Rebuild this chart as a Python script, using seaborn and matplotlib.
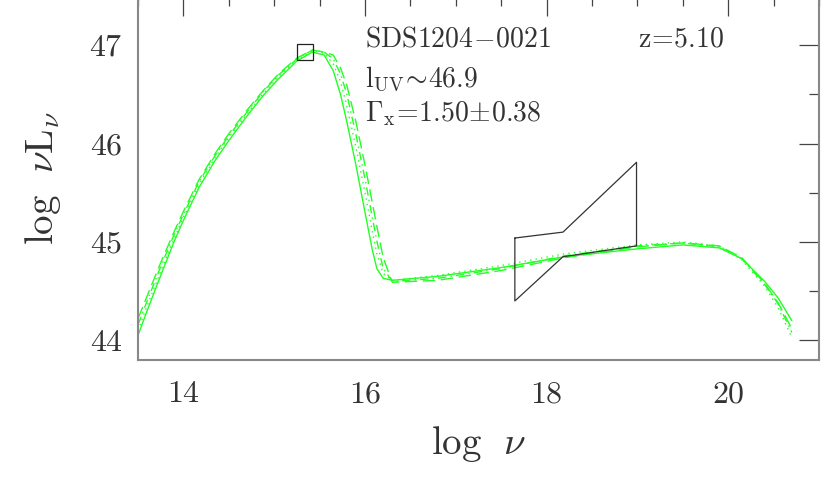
import numpy as np
import pandas as pd
import matplotlib
matplotlib.use("Agg")
import matplotlib.pyplot as plt
import seaborn as sns

# Date SED (log nu, log nu L_nu)
log_nu = [13.5, 13.6, 13.75, 13.9, 14.0, 14.17, 14.35, 14.5, 14.7, 14.88,
          15.05, 15.25, 15.42, 15.55, 15.65, 15.73, 15.8, 15.9, 16.0, 16.08,
          16.13, 16.2, 16.3, 16.8, 17.5, 18.2, 19.0, 19.5, 19.9, 20.15,
          20.4, 20.55, 20.7]

sed_solid = [44.05, 44.30, 44.66, 45.01, 45.22, 45.55, 45.83, 46.03, 46.28, 46.49,
             46.66, 46.84, 46.93, 46.90, 46.74, 46.50, 46.22, 45.78, 45.30, 44.92,
             44.73, 44.63, 44.61, 44.65, 44.74, 44.85, 44.93, 44.97, 44.94, 44.83,
             44.60, 44.43, 44.20]
sed_dash = [44.22, 44.45, 44.79, 45.11, 45.31, 45.63, 45.90, 46.10, 46.34, 46.54,
            46.71, 46.87, 46.95, 46.93, 46.90, 46.77, 46.59, 46.22, 45.78, 45.40,
            45.16, 44.84, 44.59, 44.61, 44.71, 44.84, 44.95, 44.99, 44.96, 44.84,
            44.58, 44.38, 44.12]
sed_dot = [44.10, 44.35, 44.70, 45.04, 45.25, 45.58, 45.86, 46.06, 46.30, 46.51,
           46.68, 46.85, 46.94, 46.92, 46.81, 46.63, 46.38, 45.96, 45.50, 45.11,
           44.88, 44.68, 44.61, 44.66, 44.76, 44.88, 44.97, 45.00, 44.96, 44.82,
           44.55, 44.33, 44.03]
sed_dashdot = [44.16, 44.40, 44.75, 45.08, 45.28, 45.61, 45.88, 46.08, 46.32, 46.53,
               46.70, 46.86, 46.95, 46.93, 46.86, 46.71, 46.50, 46.09, 45.64, 45.25,
               45.01, 44.73, 44.60, 44.63, 44.73, 44.86, 44.96, 44.99, 44.95, 44.83,
               44.57, 44.37, 44.08]

# Punctul UV si "papionul" X
uv_point = [15.34, 46.93]
bowtie_x = [17.65, 18.18, 18.99, 18.99, 18.18, 17.65, 17.65]
bowtie_y = [45.04, 45.10, 45.81, 44.96, 44.85, 44.40, 45.04]

sns.set_theme(style="white")
plt.rcParams["mathtext.fontset"] = "cm"
plt.rcParams["font.family"] = ["cmr10", "DejaVu Serif"]
plt.rcParams["axes.formatter.use_mathtext"] = True

fig = plt.figure(figsize=(8.3, 4.98), dpi=100)
ax = fig.add_axes([0.1663, 0.2771, 0.8205, 0.7309])

curves = {"solid": (sed_solid, "-"),
          "dash": (sed_dash, (0, (9, 4))),
          "dot": (sed_dot, (0, (1, 3))),
          "dashdot": (sed_dashdot, (0, (6, 3, 1, 3)))}
for name, (vals, ls) in curves.items():
    df = pd.DataFrame({"log_nu": log_nu, "lum": vals})
    sns.lineplot(data=df, x="log_nu", y="lum", ax=ax, color="#22ff22",
                 linestyle=ls, linewidth=1.0, estimator=None, sort=False)

ax.plot(bowtie_x, bowtie_y, color="#333333", lw=0.9)
ax.plot(uv_point[0], uv_point[1], marker="s", markersize=11, mfc="none",
        mec="#222222", mew=0.9)

ax.set_xlim(13.5, 21)
ax.set_ylim(43.8, 47.5)
ax.set_xticks([14, 16, 18, 20])
ax.set_xticks(np.arange(13.5, 21.01, 0.5), minor=True)
ax.set_yticks([44, 45, 46, 47])
ax.set_yticks(np.arange(44.0, 47.51, 0.5), minor=True)
ax.tick_params(which="both", direction="in", top=True, right=True,
               color="#444444", width=0.9, labelsize=23, labelcolor="#333333")
ax.tick_params(which="major", length=14.5)
ax.tick_params(axis="x", which="major", pad=15)
ax.tick_params(axis="y", which="major", pad=11)
ax.tick_params(which="minor", length=7.2)
for sp in ax.spines.values():
    sp.set_color("#888888")
    sp.set_linewidth(1.5)

ax.set_xlabel(r"$\mathrm{log}\ \ \nu$", fontsize=28, color="#333333", labelpad=11)
ax.set_ylabel(r"$\mathrm{log}\ \ \nu\mathrm{L}_{\nu}$", fontsize=28, color="#333333", labelpad=19)

ax.text(16.0, 46.99, r"$\mathrm{SDS1204\!-\!0021}$", fontsize=20, color="#333333")
ax.text(19.01, 46.99, r"$\mathrm{z\!=\!5.10}$", fontsize=20, color="#333333")
ax.text(16.0, 46.57, r"$\mathrm{l}_{\mathrm{UV}}\!\sim\!46.9$", fontsize=20, color="#333333")
ax.text(16.0, 46.23, r"$\Gamma_{\mathrm{x}}\!=\!1.50\!\pm\!0.38$", fontsize=20, color="#333333")

fig.savefig("out.png", dpi=100)
